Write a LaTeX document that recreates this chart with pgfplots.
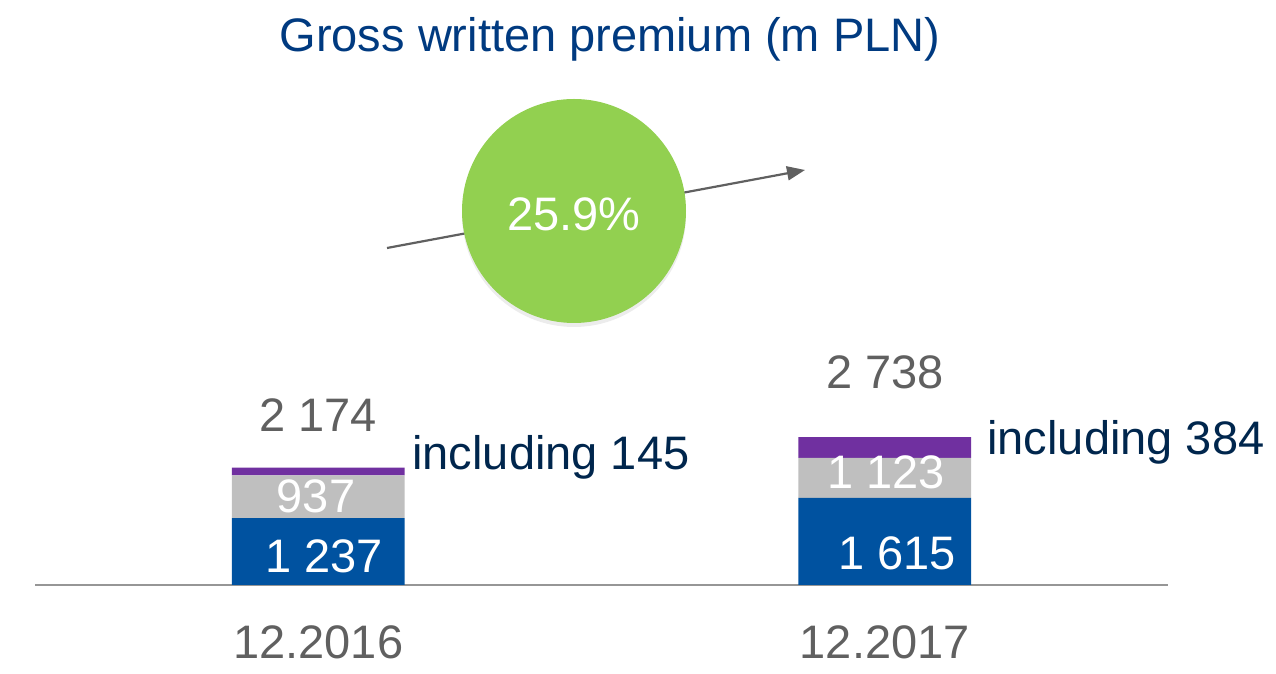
\documentclass[border=0pt]{standalone}
\usepackage{pgfplots}
\pgfplotsset{compat=1.18}
\usepackage{fontspec}
\setmainfont{Liberation Sans}
\usetikzlibrary{shadows,arrows.meta}
\definecolor{cblue}{RGB}{0,82,160}
\definecolor{cgrey}{RGB}{191,191,191}
\definecolor{cpurple}{RGB}{112,48,160}
\definecolor{cgreen}{RGB}{146,208,80}
\definecolor{ctitle}{RGB}{0,58,128}
\definecolor{cnavy}{RGB}{0,38,77}
\definecolor{cnum}{RGB}{96,96,96}
\definecolor{caxis}{RGB}{150,150,150}
\begin{document}
\begin{tikzpicture}[font=\fontsize{23.5}{28}\selectfont]
\begin{scope}[x=0.5pt, y=-0.5pt, shift={(-17.5pt,292.5pt)}]
\path[use as bounding box] (0,0) rectangle (1276,674);
\end{scope}
\begin{axis}[
  at={(0,0)}, anchor=south west,
  scale only axis, width=566.5pt, height=292.5pt,
  xmin=-0.5, xmax=1.5, ymin=0, ymax=10833,
  ybar stacked, bar width=0.305,
  axis x line*=bottom, axis y line=none,
  x axis line style={draw=caxis, line width=1pt, -},
  xtick={0,1}, xticklabels={12.2016,12.2017},
  major tick length=0pt,
  xticklabel style={text=cnum, yshift=-17pt},
  ytick=\empty,
  clip=false,
]
\addplot[fill=cblue, draw=none] coordinates {(0,1237) (1,1615)};
\addplot[fill=cgrey, draw=none] coordinates {(0,792) (1,739)};
\addplot[fill=cpurple, draw=none] coordinates {(0,145) (1,384)};
\end{axis}
\begin{scope}[x=0.5pt, y=-0.5pt, shift={(-17.5pt,292.5pt)}]
\draw[line width=1.1pt, draw=cnum, -{Triangle[length=9pt,width=7pt]}] (387,248) -- (805,170);
\fill[cgreen, drop shadow={shadow xshift=0pt, shadow yshift=-2pt, opacity=0.15}] (574,211) circle[radius=112];
\node[anchor=base, text=ctitle] at (610,52) {Gross written premium (m PLN)};
\node[anchor=base, text=white] at (574,231) {25.9\%};
\node[anchor=base, text=cnum] at (318,432) {2 174};
\node[anchor=base, text=cnum] at (885,389) {2 738};
\node[anchor=base, text=white] at (324,573) {1 237};
\node[anchor=base, text=white] at (316,513) {937};
\node[anchor=base, text=white] at (886,489) {1 123};
\node[anchor=base, text=white] at (897,570) {1 615};
\node[anchor=base west, text=cnavy, inner sep=0pt] at (412,470) {including 145};
\node[anchor=base west, text=cnavy, inner sep=0pt] at (987,455) {including 384};
\end{scope}
\end{tikzpicture}
\end{document}
